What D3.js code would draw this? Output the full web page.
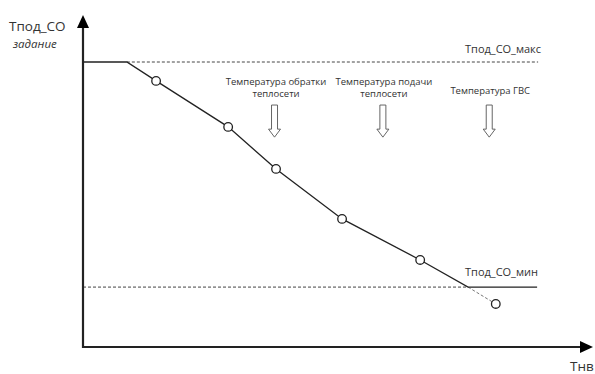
<!DOCTYPE html>
<html>
<head>
<meta charset="utf-8">
<script src="https://cdn.jsdelivr.net/npm/d3@7"></script>
<style>
  body { margin: 0; background: #fff; }
  svg text { font-family: "Open Sans", "Liberation Sans", sans-serif; fill: #333; }
</style>
</head>
<body>
<div id="chart"></div>
<script>
// Heating curve: supply temperature setpoint vs outdoor temperature (abstract units 0..100)
const curveX = [0, 8.7, 14.5, 28.8, 38.3, 51.4, 66.9, 76.4, 90.1];
const curveY = [86.1, 86.1, 80.4, 66.5, 53.8, 38.7, 26.3, 18.1, 18.1];

const pointX = [14.5, 28.8, 38.3, 51.4, 66.9, 81.9];
const pointY = [80.4, 66.5, 53.8, 38.7, 26.3, 13.0];

// extrapolated part below the minimum
const extX = [76.4, 81.9];
const extY = [18.1, 13.0];

const maxLevel = 86.1, minLevel = 18.1;
const maxDashX = [8.7, 90.3];
const minDashX = [0, 76.4];

const arrowX = [38.0, 59.5, 80.6];
const arrowLabels = [
  ['Температура обратки', 'теплосети'],
  ['Температура подачи', 'теплосети'],
  ['Температура ГВС']
];
const arrowTop = 73.1, arrowBottom = 63.4;

const width = 595, height = 374;
const x = d3.scaleLinear().domain([0, 100]).range([83, 587]);
const y = d3.scaleLinear().domain([0, 100]).range([347, 16]);

const svg = d3.select('#chart').append('svg')
  .attr('width', width)
  .attr('height', height);

// Dashed limits
svg.append('line')
  .attr('x1', x(maxDashX[0])).attr('x2', x(maxDashX[1]))
  .attr('y1', y(maxLevel)).attr('y2', y(maxLevel))
  .attr('stroke', '#444').attr('stroke-width', 1).attr('stroke-dasharray', '3,2');

svg.append('line')
  .attr('x1', x(minDashX[0])).attr('x2', x(minDashX[1]))
  .attr('y1', y(minLevel)).attr('y2', y(minLevel))
  .attr('stroke', '#444').attr('stroke-width', 1).attr('stroke-dasharray', '3,2');

// Extrapolation
svg.append('line')
  .attr('x1', x(extX[0])).attr('x2', x(extX[1]))
  .attr('y1', y(extY[0])).attr('y2', y(extY[1]))
  .attr('stroke', '#777').attr('stroke-width', 1).attr('stroke-dasharray', '3,2');

// Curve
const line = d3.line().x(d => x(d[0])).y(d => y(d[1]));
svg.append('path')
  .datum(curveX.map((v, i) => [v, curveY[i]]))
  .attr('d', line)
  .attr('fill', 'none')
  .attr('stroke', '#222')
  .attr('stroke-width', 1.3);

// Points
svg.selectAll('.pt')
  .data(pointX.map((v, i) => [v, pointY[i]]))
  .enter().append('circle')
  .attr('cx', d => x(d[0]))
  .attr('cy', d => y(d[1]))
  .attr('r', 4.3)
  .attr('fill', '#fff')
  .attr('stroke', '#222')
  .attr('stroke-width', 1.3);

// Axes with arrow heads
const x0 = x(0), y0 = y(0);
const yTip = 15, xTip = 593;
svg.append('line')
  .attr('x1', x0).attr('x2', x0).attr('y1', y0 + 1).attr('y2', yTip + 10)
  .attr('stroke', '#222').attr('stroke-width', 2.2);
svg.append('line')
  .attr('x1', x0 - 1).attr('x2', xTip - 10).attr('y1', y0).attr('y2', y0)
  .attr('stroke', '#222').attr('stroke-width', 2.2);
// arrow heads built from the axis end points
svg.append('path')
  .attr('d', d3.line()([[x0, yTip], [x0 - 6, yTip + 13], [x0 + 6, yTip + 13]]) + 'Z')
  .attr('fill', '#000');
svg.append('path')
  .attr('d', d3.line()([[xTip, y0], [xTip - 13, y0 - 6], [xTip - 13, y0 + 6]]) + 'Z')
  .attr('fill', '#000');

// Hollow down arrows
const shaftW = 3, headW = 6, headH = 8;
arrowX.forEach(v => {
  const cx = x(v), t = y(arrowTop), b = y(arrowBottom);
  const d = `M${cx - shaftW},${t} L${cx + shaftW},${t} L${cx + shaftW},${b - headH} ` +
    `L${cx + headW},${b - headH} L${cx},${b} L${cx - headW},${b - headH} ` +
    `L${cx - shaftW},${b - headH} Z`;
  svg.append('path').attr('d', d)
    .attr('fill', '#fff').attr('stroke', '#555').attr('stroke-width', 0.9);
});

// Arrow labels
const labelX = [38.3, 59.7, 80.8];
arrowLabels.forEach((lines, i) => {
  const t = svg.append('text')
    .attr('x', x(labelX[i]))
    .attr('y', lines.length > 1 ? 85 : 94)
    .attr('text-anchor', 'middle')
    .style('font-size', '9.5px');
  lines.forEach((s, j) => {
    t.append('tspan').attr('x', x(labelX[i])).attr('dy', j === 0 ? 0 : 12).text(s);
  });
});

// Level labels
svg.append('text').attr('x', 465).attr('y', y(maxLevel) - 9)
  .style('font-size', '11px').text('Тпод_СО_макс');
svg.append('text').attr('x', 465).attr('y', y(minLevel) - 11)
  .style('font-size', '11px').text('Тпод_СО_мин');

// Axis titles
svg.append('text').attr('x', 9).attr('y', 31)
  .style('font-size', '13.5px').text('Тпод_СО');
svg.append('text').attr('x', 13).attr('y', 48)
  .style('font-size', '11.5px').style('font-style', 'italic').text('задание');
svg.append('text').attr('x', 570).attr('y', 371)
  .style('font-size', '13.5px').text('Тнв');
</script>
</body>
</html>
